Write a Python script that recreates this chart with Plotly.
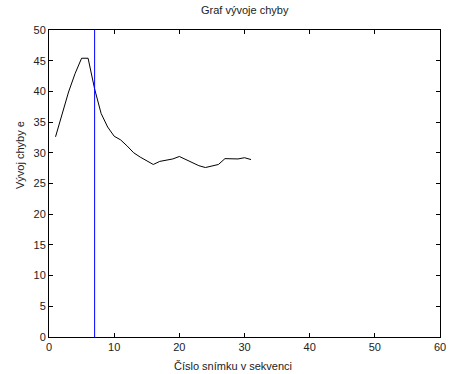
import plotly.graph_objects as go

frames = list(range(1, 32))
error_values = [32.6, 36.2, 39.9, 42.9, 45.4, 45.4, 40.4, 36.4, 34.2, 32.7,
                32.1, 31.1, 30.0, 29.3, 28.7, 28.1, 28.6, 28.8, 29.0, 29.4,
                28.9, 28.3, 27.9, 27.6, 27.8, 28.1, 29.05, 29.0, 29.0, 29.2, 28.9]
marker_x = [7, 7]
marker_y = [0, 50]

x_ticks = [0, 10, 20, 30, 40, 50, 60]
y_ticks = [0, 5, 10, 15, 20, 25, 30, 35, 40, 45, 50]

fig = go.Figure()
fig.add_trace(go.Scatter(x=frames, y=error_values, mode="lines",
                         line=dict(color="black", width=1), showlegend=False))
fig.add_trace(go.Scatter(x=marker_x, y=marker_y, mode="lines",
                         line=dict(color="#0000ff", width=1), showlegend=False))

axis_common = dict(showgrid=False, zeroline=False, showline=True, linecolor="black",
                   linewidth=1, mirror="allticks", ticks="inside", ticklen=4,
                   ticklabeloverflow="allow",
                   tickcolor="black", tickfont=dict(family="Liberation Sans, Arial", size=11, color="#222"))

fig.update_layout(
    width=451, height=374,
    margin=dict(l=49, r=5, t=30, b=37),
    paper_bgcolor="white", plot_bgcolor="white",
    xaxis=dict(range=[0, 60], tickvals=x_ticks, **axis_common),
    yaxis=dict(range=[0, 50], tickvals=y_ticks, **axis_common),
    font=dict(family="Liberation Sans, Arial", size=11, color="#222"),
    annotations=[
        dict(text="Graf vývoje chyby", xref="paper", yref="paper", x=0.5, y=1,
             yshift=20, showarrow=False, font=dict(size=11), xanchor="center", yanchor="middle"),
        dict(text="Číslo snímku v sekvenci", xref="paper", yref="paper",
             x=(233 - 49) / 392, y=0, yshift=-29, showarrow=False, font=dict(size=11),
             xanchor="center", yanchor="middle"),
        dict(text="Vývoj chyby e", xref="paper", yref="paper", x=0, xshift=-29,
             y=(337 - 155) / 307, showarrow=False, textangle=-90, font=dict(size=11),
             xanchor="center", yanchor="middle"),
    ],
)

fig.write_html("out.html")
